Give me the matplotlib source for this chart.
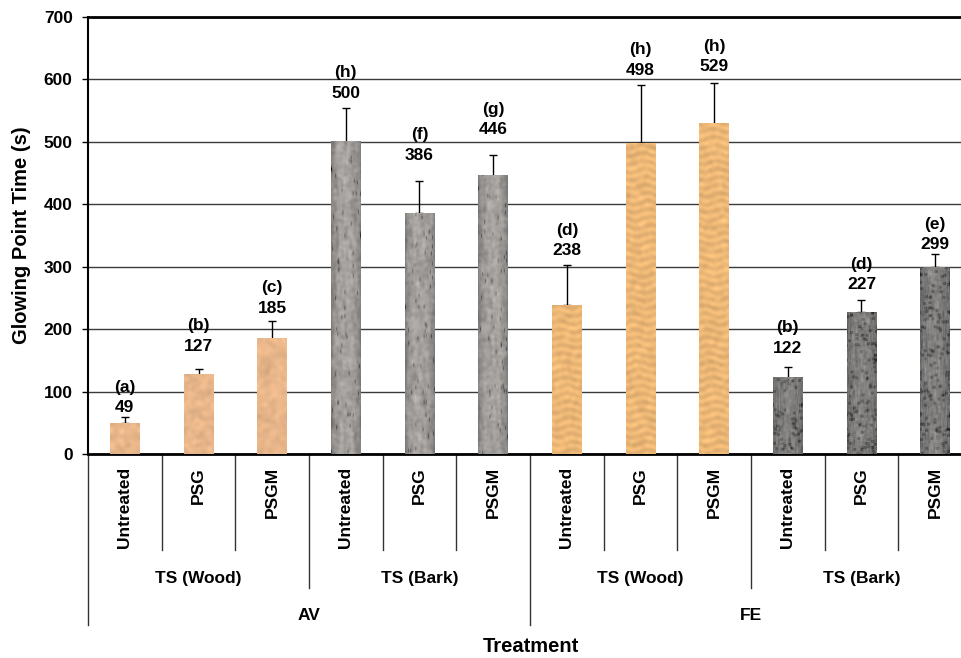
import numpy as np
import matplotlib
matplotlib.use("Agg")
import matplotlib.pyplot as plt
import matplotlib.transforms as mtransforms

plt.rcParams["font.family"] = ["Liberation Sans", "DejaVu Sans"]
plt.rcParams["font.weight"] = "bold"

# Glowing point time per treatment (s)
treatments = ["Untreated", "PSG", "PSGM"] * 4
sources = ["TS (Wood)", "TS (Bark)", "TS (Wood)", "TS (Bark)"]
species = ["AV", "FE"]
values = [49, 127, 185, 500, 386, 446, 238, 498, 529, 122, 227, 299]
errors = [11, 9, 28, 54, 51, 33, 64, 93, 66, 17, 20, 22]
letters = ["a", "b", "c", "h", "f", "g", "d", "h", "h", "b", "d", "e"]
# texture used for each bar: light wood, light bark, grained wood, dark bark
textures = ["wood", "wood", "wood", "bark", "bark", "bark",
            "grain", "grain", "grain", "darkbark", "darkbark", "darkbark"]
# gap (px) between the error cap and its label
label_gap = [5, 19, 9, 11, 22, 21, 11, 11, 12, 15, 11, 5]

rng = np.random.default_rng(7)


def blur(a, n=2, axis=None):
    for _ in range(n):
        if axis in (None, 0):
            a = (np.roll(a, 1, 0) + a + np.roll(a, -1, 0)) / 3
        if axis in (None, 1):
            a = (np.roll(a, 1, 1) + a + np.roll(a, -1, 1)) / 3
    return a


def norm(a):
    return (a - a.mean()) / (a.std() + 1e-9)


def make_texture(kind, h, w):
    h = max(int(h), 4)
    y = np.arange(h)[:, None]
    x = np.arange(w)[None, :]
    if kind == "wood":
        base = np.array([232, 182, 138]) / 255
        n = norm(blur(rng.normal(size=(h, w)), 5))
        spots = blur((rng.random((h, w)) > 0.99).astype(float), 2)
        shade = 1 + 0.025 * n + 0.2 * spots
    elif kind == "grain":
        base = np.array([236, 183, 118]) / 255
        wave = np.sin(2 * np.pi * y / 8.0 + 1.4 * np.sin(2 * np.pi * x / 28.0 + y / 40.0))
        n = norm(blur(rng.normal(size=(h, w)), 4))
        shade = 1 - 0.045 * wave + 0.02 * n
    elif kind == "bark":
        base = np.array([160, 157, 154]) / 255
        streak = np.repeat(rng.normal(size=(h // 12 + 2, w)), 12, axis=0)[:h]
        streak = norm(blur(blur(streak, 5, axis=0), 1, axis=1))
        n = norm(blur(rng.normal(size=(h, w)), 2))
        marks = blur((rng.random((h, w)) > 0.992).astype(float), 3, axis=0)
        edge = 0.74 + 0.3 * np.sin(np.pi * (x + 0.5) / w) ** 0.5
        shade = edge * (1 + 0.04 * streak + 0.035 * n) - 1.5 * marks
    else:
        base = np.array([128, 127, 126]) / 255
        streak = np.repeat(rng.normal(size=(h // 8 + 2, w)), 8, axis=0)[:h]
        streak = norm(blur(streak, 4, axis=0))
        n = norm(blur(rng.normal(size=(h, w)), 1))
        dots = blur((rng.random((h, w)) > 0.975).astype(float), 1, axis=1)
        dots = blur(dots, 1, axis=0)
        edge = 0.85 + 0.18 * np.sin(np.pi * (x + 0.5) / w)
        shade = edge * (1 + 0.07 * streak + 0.04 * n) - 2.2 * dots
    img = np.clip(shade[..., None] * base[None, None, :], 0, 1)
    return img


fig = plt.figure(figsize=(9.61, 6.58), dpi=100)
W, H = 961, 658
ax = fig.add_axes([88 / W, (H - 454) / H, 884 / W, 437 / H])

x = np.arange(len(values))
bars = ax.bar(x, values, width=0.4, color="none", edgecolor="none", zorder=3)
px_per_unit = 437 / 700
for bar, kind in zip(bars, textures):
    x0, w, h = bar.get_x(), bar.get_width(), bar.get_height()
    tex = make_texture(kind, h * px_per_unit, 29)
    ax.imshow(tex, extent=[x0, x0 + w, 0, h], aspect="auto", origin="lower",
              interpolation="bilinear", zorder=3)

# only the upper whisker is visible; the lower cap sits behind the bar
ax.errorbar(x, values, yerr=[np.zeros(len(errors)), errors], fmt="none",
            ecolor="black", elinewidth=1, capsize=3, capthick=1, zorder=2.5)

for xi, v, e, l, g in zip(x, values, errors, letters, label_gap):
    ax.annotate(f"({l})\n{v}", xy=(xi, v + e), xytext=(0, (g - 3.5) * 0.72),
                textcoords="offset points", ha="center", va="bottom",
                multialignment="center", linespacing=1.45,
                fontsize=12.5, fontweight="bold")

ax.set_xlim(-0.5, len(values) - 0.5)
ax.set_ylim(0, 700)
ax.set_yticks(range(0, 701, 100))
ax.tick_params(axis="y", length=4, width=1, pad=7, labelsize=12.5)
ax.set_xticks([])
ax.grid(axis="y", color="#3a3a3a", linewidth=1, zorder=0)
ax.set_axisbelow(True)
ax.spines["right"].set_visible(False)
ax.spines["top"].set_linewidth(2)
ax.spines["bottom"].set_linewidth(2)
ax.spines["left"].set_linewidth(1.5)
for lab in ax.get_yticklabels():
    lab.set_fontweight("bold")

ax.set_ylabel("Glowing Point Time (s)", fontsize=14.5, fontweight="bold", labelpad=9)

# multi-level category axis below the plot
trans = mtransforms.blended_transform_factory(ax.transData, fig.transFigure)


def fy(py):
    return 1 - py / H


for xi, name in zip(x, treatments):
    ax.text(xi, fy(467), name, transform=trans, rotation=90, ha="center",
            va="top", fontsize=12.5, fontweight="bold")

for b in np.arange(-0.5, len(values), 1.0):
    if b in (-0.5, 5.5, 11.5):
        bottom = 625
    elif b in (2.5, 8.5):
        bottom = 588
    else:
        bottom = 550
    ax.plot([b, b], [fy(454), fy(bottom)], transform=trans, color="#333333",
            linewidth=1, clip_on=False)

for i, name in enumerate(sources):
    ax.text(3 * i + 1, fy(578), name, transform=trans, ha="center",
            va="center", fontsize=12.5, fontweight="bold")

for i, name in enumerate(species):
    ax.text(6 * i + 2.5, fy(615), name, transform=trans, ha="center",
            va="center", fontsize=12.5, fontweight="bold")

fig.text(531 / W, fy(647), "Treatment", ha="center", va="center",
         fontsize=14.5, fontweight="bold")

fig.savefig("out.png", dpi=100)
